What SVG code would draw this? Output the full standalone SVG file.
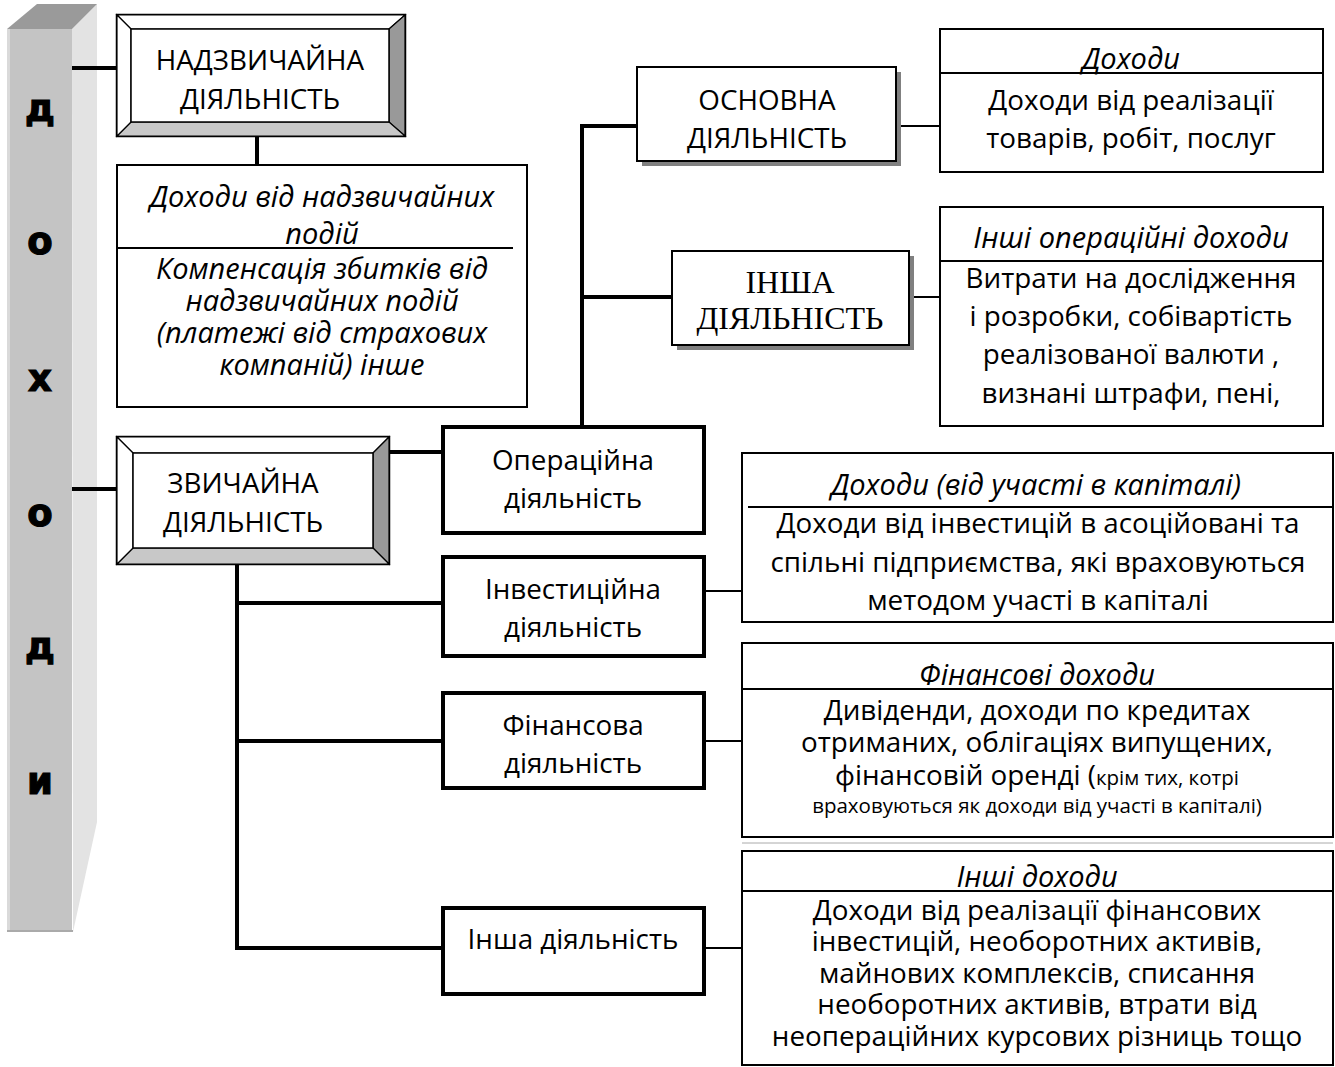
<svg xmlns="http://www.w3.org/2000/svg" width="1335" height="1067" viewBox="0 0 1335 1067">
  <style>
    .t { font-family: "Open Sans", "Noto Sans", sans-serif; font-size: 27.8px; fill: #000; text-anchor: middle; }
    .it { font-style: italic; font-size: 29px; }
    .sm { font-size: 20.5px; }
    .serif { font-family: "Liberation Serif", "Times New Roman", serif; font-size: 32px; }
    .col { font-family: "DejaVu Sans", sans-serif; font-weight: bold; font-size: 37px; text-anchor: middle; fill: #000; stroke: #000; stroke-width: 1.2; }
    .box { fill: #fff; stroke: #000; stroke-width: 2; }
    .bold-box { fill: #fff; stroke: #000; stroke-width: 4; }
    .shadow { fill: #808080; }
    .bev { stroke: #000; stroke-width: 1.2; }
    .div { stroke: #000; stroke-width: 2; }
    .thick { stroke: #000; stroke-width: 4; fill: none; }
    .thin { stroke: #000; stroke-width: 2; fill: none; }
  </style>

  <!-- vertical title column -->
  <g id="column">
    <polygon points="72,29 97,4 97,822 73,932" fill="#e3e3e3"/>
    <polygon points="7,29 37,4 97,4 72,29" fill="#9a9a9a"/>
    <rect x="7" y="29" width="65" height="903" fill="#c4c4c4"/>
    <rect x="7" y="29" width="3" height="903" fill="#dadada"/>
    <line x1="7" y1="931" x2="73" y2="931" stroke="#aaa" stroke-width="2"/>
    <text class="col" x="40" y="121">д</text>
    <text class="col" x="40" y="254">о</text>
    <text class="col" x="40" y="391">х</text>
    <text class="col" x="40" y="526">о</text>
    <text class="col" x="40" y="659">д</text>
    <text class="col" x="40" y="794">и</text>
  </g>

  <!-- connectors -->
  <g id="connectors">
    <line class="thick" x1="72" y1="68" x2="117" y2="68" stroke-width="5"/>
    <line class="thick" x1="72" y1="489" x2="117" y2="489" stroke-width="5"/>
    <line class="thick" x1="257" y1="136" x2="257" y2="165"/>
    <line class="thick" x1="389" y1="452" x2="443" y2="452"/>
    <polyline class="thick" points="582,426 582,126 672,126"/>
    <line class="thick" x1="582" y1="297" x2="672" y2="297"/>
    <polyline class="thick" points="237,560 237,948 443,948"/>
    <line class="thick" x1="237" y1="603" x2="443" y2="603"/>
    <line class="thick" x1="237" y1="741" x2="443" y2="741"/>
    <line class="thin" x1="896" y1="126" x2="940" y2="126"/>
    <line class="thin" x1="909" y1="297" x2="940" y2="297"/>
    <line class="thin" x1="704" y1="591" x2="742" y2="591"/>
    <line class="thin" x1="704" y1="741" x2="742" y2="741"/>
    <line class="thin" x1="704" y1="948" x2="742" y2="948"/>
  </g>

  <!-- extraordinary activity (bevelled frame) -->
  <g id="extraordinary">
    <rect x="117" y="15" width="288" height="121" fill="#fff" stroke="#000" stroke-width="2.5"/>
    <polygon class="bev" points="117,15 405,15 389,29 131,29" fill="#fff"/>
    <polygon class="bev" points="405,15 405,136 389,122 389,29" fill="#999"/>
    <polygon class="bev" points="117,136 405,136 389,122 131,122" fill="#c8c8c8"/>
    <polygon class="bev" points="117,15 131,29 131,122 117,136" fill="#fff"/>
    <rect x="131" y="29" width="258" height="93" fill="#fff" stroke="#000" stroke-width="1.5"/>
    <text class="t" x="260" y="70">НАДЗВИЧАЙНА</text>
    <text class="t" x="260" y="109">ДІЯЛЬНІСТЬ</text>
  </g>

  <g id="extraordinary-income">
    <rect class="box" x="117" y="165" width="410" height="242"/>
    <line class="div" x1="117" y1="248" x2="513" y2="248"/>
    <text class="t it" x="322" y="207">Доходи від надзвичайних</text>
    <text class="t it" x="322" y="244">подій</text>
    <text class="t it" x="322" y="279">Компенсація збитків від</text>
    <text class="t it" x="322" y="311">надзвичайних подій</text>
    <text class="t it" x="322" y="343">(платежі від страхових</text>
    <text class="t it" x="322" y="375">компаній) інше</text>
  </g>

  <!-- ordinary activity (bevelled frame) -->
  <g id="ordinary">
    <rect x="117" y="437" width="272" height="127" fill="#fff" stroke="#000" stroke-width="2.5"/>
    <polygon class="bev" points="117,437 389,437 373,453 133,453" fill="#fff"/>
    <polygon class="bev" points="389,437 389,564 373,548 373,453" fill="#999"/>
    <polygon class="bev" points="117,564 389,564 373,548 133,548" fill="#c8c8c8"/>
    <polygon class="bev" points="117,437 133,453 133,548 117,564" fill="#fff"/>
    <rect x="133" y="453" width="240" height="95" fill="#fff" stroke="#000" stroke-width="1.5"/>
    <text class="t" x="243" y="493">ЗВИЧАЙНА</text>
    <text class="t" x="243" y="532">ДІЯЛЬНІСТЬ</text>
  </g>

  <!-- ordinary activity kinds -->
  <g id="operating">
    <rect class="bold-box" x="443" y="427" width="261" height="106"/>
    <text class="t" x="573" y="470">Операційна</text>
    <text class="t" x="573" y="508">діяльність</text>
  </g>
  <g id="investing">
    <rect class="bold-box" x="443" y="557" width="261" height="99"/>
    <text class="t" x="573" y="599">Інвестиційна</text>
    <text class="t" x="573" y="637">діяльність</text>
  </g>
  <g id="financing">
    <rect class="bold-box" x="443" y="693" width="261" height="95"/>
    <text class="t" x="573" y="735">Фінансова</text>
    <text class="t" x="573" y="773">діяльність</text>
  </g>
  <g id="other">
    <rect class="bold-box" x="443" y="908" width="261" height="86"/>
    <text class="t" x="573" y="949">Інша діяльність</text>
  </g>

  <!-- operating sub-kinds (shadowed boxes) -->
  <g id="main">
    <rect class="shadow" x="642" y="72" width="259" height="94"/>
    <rect class="box" x="637" y="67" width="259" height="94"/>
    <text class="t" x="767" y="110">ОСНОВНА</text>
    <text class="t" x="767" y="148">ДІЯЛЬНІСТЬ</text>
  </g>
  <g id="other-operating">
    <rect class="shadow" x="677" y="256" width="237" height="94"/>
    <rect class="box" x="672" y="251" width="237" height="94"/>
    <text class="t serif" x="790" y="293">ІНША</text>
    <text class="t serif" x="790" y="329">ДІЯЛЬНІСТЬ</text>
  </g>

  <!-- income descriptions -->
  <g id="revenue">
    <rect class="box" x="940" y="29" width="383" height="143"/>
    <line class="div" x1="940" y1="73" x2="1323" y2="73"/>
    <text class="t it" x="1131" y="69">Доходи</text>
    <text class="t" x="1131" y="110">Доходи від реалізації</text>
    <text class="t" x="1131" y="148">товарів, робіт, послуг</text>
  </g>
  <g id="other-operating-income">
    <rect class="box" x="940" y="207" width="383" height="219"/>
    <line class="div" x1="940" y1="261" x2="1323" y2="261"/>
    <text class="t it" x="1131" y="248">Інші операційні доходи</text>
    <text class="t" x="1131" y="288">Витрати на дослідження</text>
    <text class="t" x="1131" y="326">і розробки, собівартість</text>
    <text class="t" x="1131" y="364">реалізованої валюти ,</text>
    <text class="t" x="1131" y="403">визнані штрафи, пені,</text>
  </g>
  <g id="equity-income">
    <rect class="box" x="742" y="453" width="591" height="169"/>
    <line class="div" x1="748" y1="507" x2="1333" y2="507"/>
    <text class="t it" x="1036" y="495">Доходи (від участі в капіталі)</text>
    <text class="t" x="1038" y="533">Доходи від інвестицій в асоційовані та</text>
    <text class="t" x="1038" y="572">спільні підприємства, які враховуються</text>
    <text class="t" x="1038" y="610">методом участі в капіталі</text>
  </g>
  <g id="financial-income">
    <rect class="box" x="742" y="643" width="591" height="194"/>
    <line class="div" x1="742" y1="689" x2="1333" y2="689"/>
    <text class="t it" x="1037" y="685">Фінансові доходи</text>
    <text class="t" x="1037" y="720">Дивіденди, доходи по кредитах</text>
    <text class="t" x="1037" y="752">отриманих, облігаціях випущених,</text>
    <text class="t" x="1037" y="785">фінансовій оренді (<tspan class="sm">крім тих, котрі</tspan></text>
    <text class="t sm" x="1037" y="813">враховуються як доходи від участі в капіталі)</text>
  </g>
  <line x1="742" y1="843" x2="1333" y2="843" stroke="#aaa" stroke-width="1"/>
  <g id="other-income">
    <rect class="box" x="742" y="851" width="591" height="214"/>
    <line class="div" x1="742" y1="891" x2="1333" y2="891"/>
    <text class="t it" x="1037" y="887">Інші доходи</text>
    <text class="t" x="1037" y="920">Доходи від реалізації фінансових</text>
    <text class="t" x="1037" y="951">інвестицій, необоротних активів,</text>
    <text class="t" x="1037" y="983">майнових комплексів, списання</text>
    <text class="t" x="1037" y="1014">необоротних активів, втрати від</text>
    <text class="t" x="1037" y="1046">неопераційних курсових різниць тощо</text>
  </g>
</svg>
